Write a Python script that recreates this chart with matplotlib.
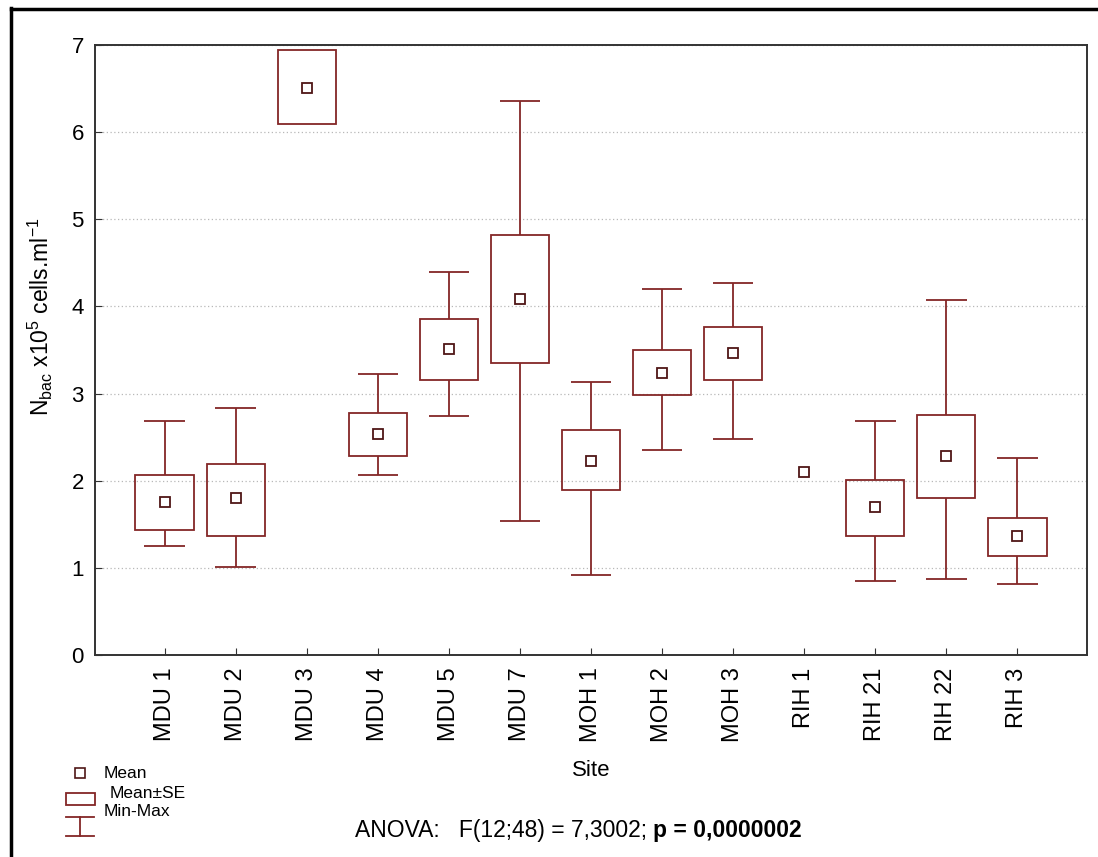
import numpy as np
import matplotlib.pyplot as plt
from matplotlib.lines import Line2D
from matplotlib.patches import Rectangle

plt.rcParams['font.family'] = ['Liberation Sans', 'DejaVu Sans']
plt.rcParams['mathtext.fontset'] = 'custom'
plt.rcParams['mathtext.rm'] = 'Liberation Sans'
plt.rcParams['mathtext.it'] = 'Liberation Sans'

sites = ["MDU 1", "MDU 2", "MDU 3", "MDU 4", "MDU 5", "MDU 7",
         "MOH 1", "MOH 2", "MOH 3", "RIH 1", "RIH 21", "RIH 22", "RIH 3"]
means = [1.76, 1.80, 6.51, 2.54, 3.51, 4.09, 2.23, 3.24, 3.47, 2.10, 1.70, 2.28, 1.37]
se_low = [1.44, 1.37, 6.09, 2.28, 3.16, 3.35, 1.89, 2.98, 3.16, np.nan, 1.37, 1.80, 1.14]
se_high = [2.07, 2.19, 6.94, 2.78, 3.85, 4.82, 2.58, 3.50, 3.76, np.nan, 2.01, 2.75, 1.57]
mins = [1.25, 1.01, np.nan, 2.06, 2.74, 1.54, 0.92, 2.35, 2.48, np.nan, 0.85, 0.87, 0.82]
maxs = [2.69, 2.83, np.nan, 3.23, 4.39, 6.36, 3.13, 4.20, 4.27, np.nan, 2.69, 4.07, 2.26]

RED = '#842626'
DARK = '#4f1616'

x = np.arange(len(sites))
se_low = np.array(se_low)
se_high = np.array(se_high)
mins = np.array(mins)
maxs = np.array(maxs)

fig = plt.figure(figsize=(10.98, 8.57), dpi=100)
ax = fig.add_axes([0.0865, 0.2357, 0.9035, 0.7118])

box_w = 0.82
cap_w = 0.57

# mean +- SE boxes
ax.bar(x, se_high - se_low, bottom=se_low, width=box_w, fill=False,
       edgecolor=RED, linewidth=1.3, zorder=3)

# min-max whiskers
ax.vlines(x, se_high, maxs, color=RED, linewidth=1.3, zorder=3)
ax.vlines(x, mins, se_low, color=RED, linewidth=1.3, zorder=3)
ax.hlines(maxs, x - cap_w / 2, x + cap_w / 2, color=RED, linewidth=1.3, zorder=3)
ax.hlines(mins, x - cap_w / 2, x + cap_w / 2, color=RED, linewidth=1.3, zorder=3)

# means
ax.plot(x, means, 's', ms=7.5, mfc='white', mec=DARK, mew=1.3, ls='none', zorder=4)

ax.set_xlim(-0.98, 12.98)
ax.set_ylim(0, 7)
ax.set_yticks(range(8))
ax.set_xticks(x)
ax.set_xticklabels(sites, rotation=90, fontsize=17)
ax.tick_params(axis='y', direction='in', length=5, labelsize=16, pad=8, color='#333333')
ax.tick_params(axis='x', direction='in', length=5, pad=9, color='#333333')
ax.grid(axis='y', linestyle=(0, (1, 2)), color='#b8b8b8', linewidth=0.9)
ax.set_axisbelow(True)
for sp in ax.spines.values():
    sp.set_linewidth(1.4)
    sp.set_color('#333333')

ax.set_ylabel(r'N$_{\mathrm{bac}}$ x10$^{5}$ cells.ml$^{-1}$', fontsize=16.5)
ax.yaxis.set_label_coords(-0.040, 0.555)
ax.set_xlabel('Site', fontsize=16)
ax.xaxis.set_label_coords(0.5, -0.172)

# legend drawn in figure pixels
def fx(px):
    return px / 1098

def fy(py):
    return 1 - py / 857

fig.add_artist(Line2D([fx(80)], [fy(773)], marker='s', ms=6.5, mfc='white',
                      mec=DARK, mew=1.2, transform=fig.transFigure))
fig.add_artist(Rectangle((fx(66), fy(805)), fx(29), 12 / 857, fill=False,
                         edgecolor=RED, linewidth=1.3, transform=fig.transFigure))
fig.add_artist(Line2D([fx(66), fx(94)], [fy(817), fy(817)], color=RED, lw=1.3,
                      transform=fig.transFigure))
fig.add_artist(Line2D([fx(80), fx(80)], [fy(817), fy(836)], color=RED, lw=1.3,
                      transform=fig.transFigure))
fig.add_artist(Line2D([fx(66), fx(94)], [fy(836), fy(836)], color=RED, lw=1.3,
                      transform=fig.transFigure))
fig.text(fx(104), fy(773), 'Mean', fontsize=12.5, va='center')
fig.text(fx(110), fy(793), 'Mean\u00b1SE', fontsize=12.5, va='center')
fig.text(fx(104), fy(812), 'Min-Max', fontsize=12.5, va='center')

t1 = fig.text(fx(355), fy(830), 'ANOVA:   F(12;48) = 7,3002; ', fontsize=16.5, va='center')
ax.annotate('p = 0,0000002', xy=(1, 0.5), xycoords=t1, va='center', ha='left',
            fontsize=16.5, fontweight='bold', annotation_clip=False)

# outer frame
fig.add_artist(Line2D([fx(11), fx(11)], [fy(8), 0], color='black', lw=2.5,
                      transform=fig.transFigure))
fig.add_artist(Line2D([fx(11), 1], [fy(9), fy(9)], color='black', lw=2.5,
                      transform=fig.transFigure))

fig.savefig('out.png', dpi=100)
